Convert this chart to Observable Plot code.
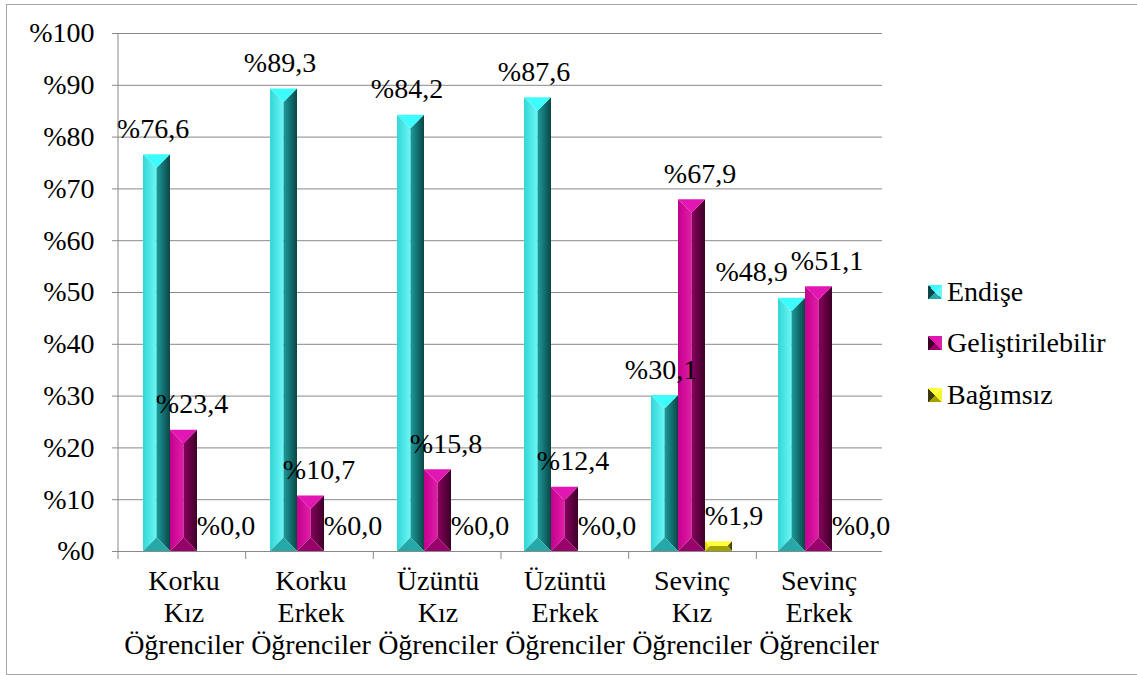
<!DOCTYPE html>
<html><head><meta charset="utf-8">
<script src="https://cdn.jsdelivr.net/npm/d3@7"></script>
<script src="https://cdn.jsdelivr.net/npm/@observablehq/plot@0.6"></script>
<style>
body{margin:0;background:#fff;}
#wrap{position:relative;width:1137px;height:675px;overflow:hidden;background:#fff;}
#border{position:absolute;left:6px;top:4px;width:1140px;height:669px;border:1px solid #a6a6a6;box-sizing:content-box;}
#chart{position:absolute;left:0;top:0;}
#legend{position:absolute;left:928px;top:266px;}
.row{display:flex;align-items:center;height:51.5px;font-size:28px;line-height:1;color:#000;}
.mk{display:inline-block;width:14px;height:14px;margin-right:5px;flex:none;}
</style></head>
<body style="font-family:'Liberation Serif'">
<div id="wrap"><div id="border"></div><div id="chart"></div><div id="legend" style="font-family:'Liberation Serif'"></div></div>
<script>
// ---- data ----
const categories = ["Korku Kız Öğrenciler", "Korku Erkek Öğrenciler", "Üzüntü Kız Öğrenciler", "Üzüntü Erkek Öğrenciler", "Sevinç Kız Öğrenciler", "Sevinç Erkek Öğrenciler"];
const series = ["Endişe", "Geliştirilebilir", "Bağımsız"];
const endise = [76.6, 89.3, 84.2, 87.6, 30.1, 48.9];
const gelistirilebilir = [23.4, 10.7, 15.8, 12.4, 67.9, 51.1];
const bagimsiz = [0.0, 0.0, 0.0, 0.0, 1.9, 0.0];
const yTicks = [0, 10, 20, 30, 40, 50, 60, 70, 80, 90, 100];

// ---- styles ----
const FONT = "Liberation Serif";
const GRAY = "#898989";
const PAL = {
  "Endişe": {id: "g0", top: "#3efcfc", left: ["#33d6d6", "#6af6f6"], right: ["#1c9c9c", "#0a4646"], bottom: "#26a8a8", center: "#33cccc"},
  "Geliştirilebilir": {id: "g1", top: "#e216b2", left: ["#c4008e", "#e01ea8"], right: ["#8a005e", "#3c0028"], bottom: "#98006a", center: "#cc0099"},
  "Bağımsız": {id: "g2", top: "#ffff3a", left: ["#dada00", "#f6f62e"], right: ["#888800", "#3c3c00"], bottom: "#a2a200", center: "#ffff00"}
};
const LABEL_DX = {"Endişe": -4, "Geliştirilebilir": 8, "Bağımsız": 15};

const values = [endise, gelistirilebilir, bagimsiz];
const table = categories.flatMap((c, i) => series.map((s, j) => ({category: c, series: s, value: values[j][i]})));
const fmt = v => "%" + v.toFixed(1).replace(".", ",");

function bevel(s) {
  const p = PAL[s];
  return (index, scales, vals, dims, ctx, next) => {
    const g = next(index, scales, vals, dims, ctx);
    d3.select(g).selectAll("rect").each(function() {
      const r = d3.select(this);
      const x = +r.attr("x"), y = +r.attr("y"), w = +r.attr("width"), h = +r.attr("height");
      const parent = d3.select(this.parentNode);
      r.remove();
      if (!(h > 0.2)) return;
      const d = Math.min(w / 2, h / 2);
      const P = pts => pts.map(q => q.join(",")).join(" ");
      const add = (pts, fill) => parent.append("polygon").attr("points", P(pts)).attr("fill", fill).attr("stroke", "none");
      if (w - 2 * d > 0.3 && h - 2 * d > 0.3) parent.append("rect").attr("x", x + d).attr("y", y + d).attr("width", w - 2 * d).attr("height", h - 2 * d).attr("fill", p.center);
      add([[x, y], [x + d, y + d], [x + d, y + h - d], [x, y + h]], `url(#${p.id}l)`);
      add([[x + w - d, y + d], [x + w, y], [x + w, y + h], [x + w - d, y + h - d]], `url(#${p.id}r)`);
      add([[x, y + h], [x + w, y + h], [x + w - d, y + h - d], [x + d, y + h - d]], p.bottom);
      add([[x, y], [x + w, y], [x + w - d, y + d], [x + d, y + d]], p.top);
    });
    return g;
  };
}

const marks = [
  Plot.gridY(yTicks, {stroke: GRAY, strokeOpacity: 1}),
  Plot.ruleY([0], {stroke: GRAY})
];
for (const s of series) {
  const rows = table.filter(d => d.series === s);
  marks.push(Plot.barY(rows, {fx: "category", x: "series", y: "value", fill: PAL[s].center, render: bevel(s)}));
}
for (const s of series) {
  const rows = table.filter(d => d.series === s);
  marks.push(Plot.text(rows, {fx: "category", x: "series", y: "value", text: d => fmt(d.value), dx: LABEL_DX[s], dy: -17, lineAnchor: "bottom", fill: "#000", className: "lbl-" + PAL[s].id}));
}
marks.push(Plot.axisY({ticks: yTicks, tickFormat: d => "%" + d, tickSize: 8, tickPadding: 18, stroke: GRAY, fill: "#000", label: null}));
marks.push(Plot.axisFx({anchor: "bottom", tickSize: 0, tickPadding: 16, lineHeight: 1.14, tickFormat: d => d.split(" ").join("\n"), label: null, fill: "#000"}));

const plot = Plot.plot({
  width: 1137,
  height: 675,
  marginLeft: 118,
  marginRight: 253,
  marginTop: 33,
  marginBottom: 124,
  style: {fontSize: "28px", background: "transparent", overflow: "visible", color: "#000", fontFamily: FONT},
  fx: {domain: categories, padding: 0},
  x: {domain: series, paddingInner: 0, paddingOuter: 0.78, axis: null},
  y: {domain: [0, 100], axis: null},
  marks
});
document.getElementById("chart").appendChild(plot);

// gradients, placed inside the plot's own svg
const defs = d3.select(plot).insert("defs", ":first-child");
for (const s of series) {
  const p = PAL[s];
  const gl = defs.append("linearGradient").attr("id", p.id + "l").attr("x1", 0).attr("x2", 1).attr("y1", 0).attr("y2", 0);
  gl.append("stop").attr("offset", 0).attr("stop-color", p.left[0]);
  gl.append("stop").attr("offset", 1).attr("stop-color", p.left[1]);
  const gr = defs.append("linearGradient").attr("id", p.id + "r").attr("x1", 0).attr("x2", 1).attr("y1", 0).attr("y2", 0);
  gr.append("stop").attr("offset", 0).attr("stop-color", p.right[0]);
  gr.append("stop").attr("offset", 1).attr("stop-color", p.right[1]);
}

// axis line and category boundary ticks from the plot's own scales
const fx = plot.scale("fx"), ys = plot.scale("y");
const yAt = v => ys.apply ? ys.apply(v) : ys.range[0] + (v - ys.domain[0]) / (ys.domain[1] - ys.domain[0]) * (ys.range[1] - ys.range[0]);
const step = (fx.range[1] - fx.range[0]) / categories.length;
const edges = d3.range(categories.length + 1).map(i => fx.range[0] + i * step);
const ga = d3.select(plot).append("g").attr("stroke", GRAY).attr("stroke-width", 1);
ga.append("line").attr("x1", edges[0]).attr("x2", edges[0]).attr("y1", yAt(0)).attr("y2", yAt(100));
ga.selectAll(".bt").data(edges.slice(0, -1)).join("line").attr("x1", d => d).attr("x2", d => d).attr("y1", yAt(0)).attr("y2", yAt(0) + 8);

// simple label collision avoidance: push a left label leftwards when it overlaps its right neighbour
{
  const left = Array.from(plot.querySelectorAll(".lbl-g0 text"));
  const right = Array.from(plot.querySelectorAll(".lbl-g1 text"));
  left.forEach((t, i) => {
    const u = right[i];
    if (!u) return;
    const a = t.getBoundingClientRect(), b = u.getBoundingClientRect();
    const overlapX = a.right - b.left, overlapY = Math.min(a.bottom, b.bottom) - Math.max(a.top, b.top);
    if (overlapX > 0 && overlapY > 0) {
      const cur = t.getAttribute("transform") || "";
      t.setAttribute("transform", `translate(${-(overlapX + 3)},0) ` + cur);
    }
  });
}

// legend (bevelled squares drawn with CSS conic gradients)
const lg = d3.select("#legend");
for (const s of series) {
  const p = PAL[s];
  const row = lg.append("div").attr("class", "row");
  row.append("span").attr("class", "mk")
    .style("background", `conic-gradient(from -45deg, ${p.top} 0 90deg, ${p.left[1]} 90deg 180deg, ${p.bottom} 180deg 270deg, ${p.right[1]} 270deg 360deg)`);
  row.append("span").text(s);
}
</script>
</body></html>
